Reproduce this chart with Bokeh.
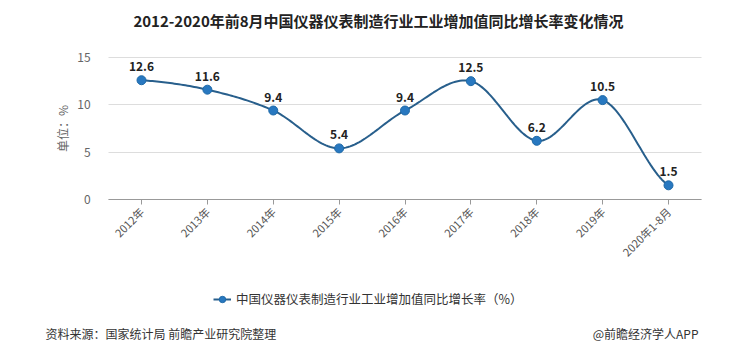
import numpy as np
from bokeh.plotting import figure
from bokeh.models import (FixedTicker, Range1d, ColumnDataSource, LabelSet, Legend, LegendItem,
                          Label, Grid)
from bokeh.core.properties import value
from bokeh.embed import file_html
from bokeh.resources import INLINE

categories = ["2012年", "2013年", "2014年", "2015年", "2016年", "2017年", "2018年", "2019年", "2020年1-8月"]
growth = [12.6, 11.6, 9.4, 5.4, 9.4, 12.5, 6.2, 10.5, 1.5]
y_ticks = [0, 5, 10, 15]
title_text = "2012-2020年前8月中国仪器仪表制造行业工业增加值同比增长率变化情况"
series_name = "中国仪器仪表制造行业工业增加值同比增长率（%）"
y_title = "单位：%"
source_text = "资料来源：国家统计局 前瞻产业研究院整理"
credit_text = "@前瞻经济学人APP"

FONT = "Noto Sans CJK SC"
LINE = "#285f8c"
DOT = "#2878c0"

W, H = 756, 356
# layout constants (pixels): first category centre, category spacing, zero line, px per unit
X0, DX = 141.0, 65.875
Y0, DY = 199.0, 142.0 / 15.0

xs = np.arange(len(categories), dtype=float)
ys = np.array(growth, dtype=float)

# Catmull-Rom smoothing through the data points
def smooth(x, y, n=30):
    px = np.concatenate([[2 * x[0] - x[1]], x, [2 * x[-1] - x[-2]]])
    py = np.concatenate([[y[0]], y, [y[-1]]])
    ox, oy = [], []
    for i in range(1, len(px) - 2):
        t = np.linspace(0, 1, n, endpoint=False)
        for arr, a in ((ox, px), (oy, py)):
            a0, a1, a2, a3 = a[i - 1], a[i], a[i + 1], a[i + 2]
            arr.extend(0.5 * ((2 * a1) + (-a0 + a2) * t + (2 * a0 - 5 * a1 + 4 * a2 - a3) * t ** 2
                              + (-a0 + 3 * a1 - 3 * a2 + a3) * t ** 3))
    ox.append(x[-1]); oy.append(y[-1])
    return np.array(ox), np.array(oy)

cx, cy = smooth(xs, ys)

p = figure(width=W, height=H, output_backend="svg", toolbar_location=None,
           x_range=Range1d(-X0 / DX, (W - X0) / DX),
           y_range=Range1d(-(H - Y0) / DY, Y0 / DY),
           min_border=0, min_border_left=0, min_border_right=0,
           min_border_top=0, min_border_bottom=0,
           background_fill_color="white", border_fill_color="white")
p.outline_line_color = None
p.title.visible = False

x_lo, x_hi = -0.5, len(categories) - 0.5

# grid lines only across the plot area
p.xgrid.grid_line_color = None
p.ygrid.ticker = FixedTicker(ticks=y_ticks)
p.ygrid.grid_line_color = "#dddddd"
if "cross_bounds" in Grid.properties():
    p.ygrid.cross_bounds = (x_lo, x_hi)
else:
    p.ygrid.grid_line_color = None
    p.segment(x0=[x_lo] * len(y_ticks), x1=[x_hi] * len(y_ticks), y0=y_ticks, y1=y_ticks,
              line_color="#dddddd", line_width=1)

line_r = p.line(cx, cy, line_color=LINE, line_width=2)
src = ColumnDataSource(dict(x=xs, y=ys, t=[f"{v:.1f}" for v in growth]))
dot_r = p.scatter("x", "y", source=src, size=9, fill_color=DOT, line_color="#1f6aa8", line_width=1)
p.add_layout(LabelSet(x="x", y="y", text="t", source=src, y_offset=9, text_align="center",
                      text_font=value(FONT), text_font_size="12px", text_font_style="bold",
                      text_color="#222222"))

xa = p.xaxis[0]
xa.fixed_location = 0
xa.bounds = (x_lo, x_hi)
xa.ticker = FixedTicker(ticks=list(range(len(categories))))
xa.major_label_overrides = {i: c for i, c in enumerate(categories)}
xa.major_label_orientation = np.pi / 4
xa.major_label_text_font = FONT
xa.major_label_text_font_size = "11px"
xa.major_label_text_color = "#555555"
xa.axis_line_color = "#999999"
xa.major_tick_line_color = "#999999"
xa.major_tick_in = 0
xa.major_tick_out = 5
xa.minor_tick_line_color = None

ya = p.yaxis[0]
ya.fixed_location = x_lo
ya.ticker = FixedTicker(ticks=y_ticks)
ya.axis_line_color = None
ya.major_tick_line_color = None
ya.minor_tick_line_color = None
ya.major_label_standoff = 12
ya.major_label_text_font = FONT
ya.major_label_text_font_size = "12px"
ya.major_label_text_color = "#666666"

# texts (screen units: frame == whole canvas, origin bottom-left)
p.add_layout(Label(x=W / 2, y=H - 20, x_units="screen", y_units="screen", text=title_text,
                   text_font=FONT, text_font_size="15px", text_font_style="bold",
                   text_color="#222222", text_align="center", text_baseline="middle"))
p.add_layout(Label(x=62, y=H - 128, x_units="screen", y_units="screen", text=y_title,
                   angle=np.pi / 2, text_font=FONT, text_font_size="12px",
                   text_color="#666666", text_align="center", text_baseline="middle"))
p.add_layout(Label(x=45, y=H - 333, x_units="screen", y_units="screen", text=source_text,
                   text_font=FONT, text_font_size="12px", text_color="#333333",
                   text_baseline="middle"))
p.add_layout(Label(x=698, y=H - 333, x_units="screen", y_units="screen", text=credit_text,
                   text_font=FONT, text_font_size="12px", text_color="#333333",
                   text_align="right", text_baseline="middle"))

legend = Legend(items=[LegendItem(label=series_name, renderers=[line_r, dot_r])],
                location=(213, H - 298 - 10), orientation="horizontal",
                label_text_font=FONT, label_text_font_size="12.5px", label_text_color="#333333",
                glyph_width=18, glyph_height=16, label_height=16, label_standoff=5,
                padding=2, margin=0, border_line_color=None, background_fill_alpha=0)
p.add_layout(legend, "center")

open("out.html", "w").write(file_html(p, INLINE))
